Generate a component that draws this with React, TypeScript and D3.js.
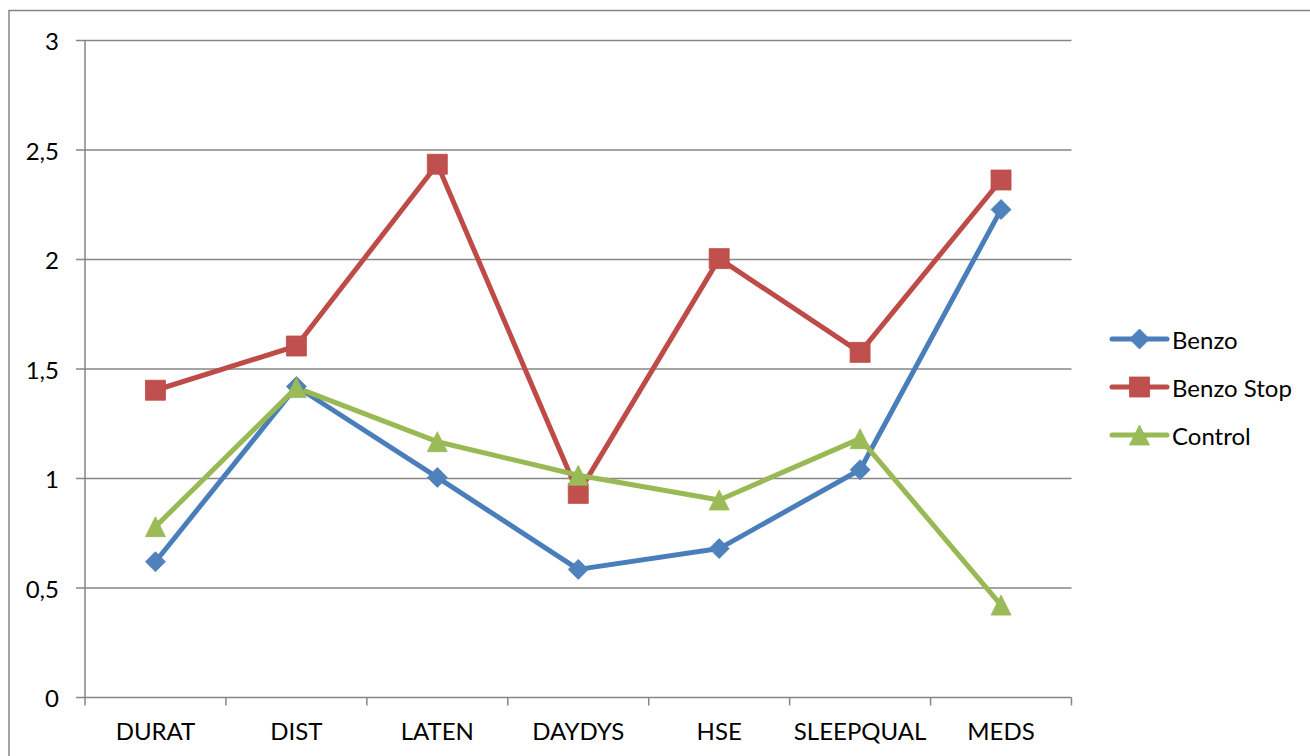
import React from "react";
import * as d3 from "d3";

// Category labels along the x axis
const categories = ["DURAT", "DIST", "LATEN", "DAYDYS", "HSE", "SLEEPQUAL", "MEDS"];

// Series values per category
const benzo = [0.62, 1.42, 1.005, 0.585, 0.68, 1.04, 2.228];
const benzoStop = [1.403, 1.605, 2.435, 0.932, 2.004, 1.576, 2.363];
const control = [0.78, 1.415, 1.168, 1.015, 0.902, 1.182, 0.422];

// y-axis ticks
const yTicks = [0, 0.5, 1, 1.5, 2, 2.5, 3];
const formatTick = (v: number) => String(v).replace(".", ",");

type Shape = "diamond" | "square" | "triangle";

const series: { name: string; values: number[]; color: string; fill: string; shape: Shape }[] = [
  { name: "Benzo", values: benzo, color: "#4A7EBB", fill: "#4F81BD", shape: "diamond" },
  { name: "Benzo Stop", values: benzoStop, color: "#BE4B48", fill: "#C0504D", shape: "square" },
  { name: "Control", values: control, color: "#98B954", fill: "#9BBB59", shape: "triangle" },
];

const W = 1310;
const H = 756;
const plot = { left: 85, right: 1071.5, top: 40.5, bottom: 697.5 };
const FONT = "Lato, 'Open Sans', sans-serif";
const FS = 24;
const GRID = "#868686";

function markerPath(shape: Shape, size: number): string {
  const h = size / 2;
  if (shape === "square") return `M${-h},${-h}H${h}V${h}H${-h}Z`;
  if (shape === "diamond") return `M0,${-h}L${h},0L0,${h}L${-h},0Z`;
  return `M0,${-h}L${h},${h}L${-h},${h}Z`;
}

export default function App() {
  const x = d3.scaleBand<string>().domain(categories).range([plot.left, plot.right]).padding(0);
  const y = d3.scaleLinear().domain([0, 3]).range([plot.bottom, plot.top]);
  const cx = (c: string) => (x(c) as number) + x.bandwidth() / 2;

  const line = d3
    .line<number>()
    .x((_, i) => cx(categories[i]))
    .y((d) => y(d));

  const boundaries = d3.range(categories.length + 1).map((i) => plot.left + i * x.bandwidth());

  const legendX = 1112;
  const legendY0 = 339;
  const legendStep = 48;

  return (
    <svg
      width={W}
      height={H}
      style={{ position: "absolute", left: 0, top: 0, background: "#fff" }}
      fontFamily={FONT}
    >
      {/* chart frame */}
      <rect x={9} y={10.5} width={W + 20} height={H + 20} fill="#fff" stroke={GRID} strokeWidth={1.5} />

      {/* horizontal gridlines */}
      {yTicks.map((t) => (
        <line key={t} x1={76} x2={plot.right} y1={y(t)} y2={y(t)} stroke={GRID} strokeWidth={1.5} />
      ))}

      {/* y axis */}
      <line x1={plot.left} x2={plot.left} y1={plot.top} y2={plot.bottom} stroke={GRID} strokeWidth={1.5} />
      {yTicks.map((t) => (
        <text key={t} x={59} y={y(t)} textAnchor="end" dominantBaseline="central" fontSize={FS} fill="#000">
          {formatTick(t)}
        </text>
      ))}

      {/* x axis ticks and labels */}
      {boundaries.map((bx, i) => (
        <line key={i} x1={bx} x2={bx} y1={plot.bottom} y2={plot.bottom + 8} stroke={GRID} strokeWidth={1.5} />
      ))}
      {categories.map((c) => (
        <text key={c} x={cx(c)} y={740} textAnchor="middle" fontSize={FS} fill="#000">
          {c}
        </text>
      ))}

      {/* series lines */}
      {series.map((s) => (
        <path
          key={s.name}
          d={line(s.values) ?? ""}
          fill="none"
          stroke={s.color}
          strokeWidth={5}
          strokeLinejoin="round"
          strokeLinecap="round"
        />
      ))}

      {/* markers */}
      {series.map((s) =>
        s.values.map((v, i) => (
          <path
            key={s.name + i}
            transform={`translate(${cx(categories[i])},${y(v)})`}
            d={markerPath(s.shape, 20)}
            fill={s.fill}
            stroke={s.color}
            strokeWidth={0.8}
          />
        ))
      )}

      {/* legend */}
      {series.map((s, i) => {
        const ly = legendY0 + i * legendStep;
        return (
          <g key={s.name}>
            <line
              x1={legendX}
              x2={legendX + 55}
              y1={ly}
              y2={ly}
              stroke={s.color}
              strokeWidth={5}
              strokeLinecap="round"
            />
            <path
              transform={`translate(${legendX + 27.5},${ly})`}
              d={markerPath(s.shape, 20)}
              fill={s.fill}
              stroke={s.color}
              strokeWidth={0.8}
            />
            <text x={legendX + 60} y={ly} dominantBaseline="central" fontSize={FS} fill="#000">
              {s.name}
            </text>
          </g>
        );
      })}
    </svg>
  );
}
